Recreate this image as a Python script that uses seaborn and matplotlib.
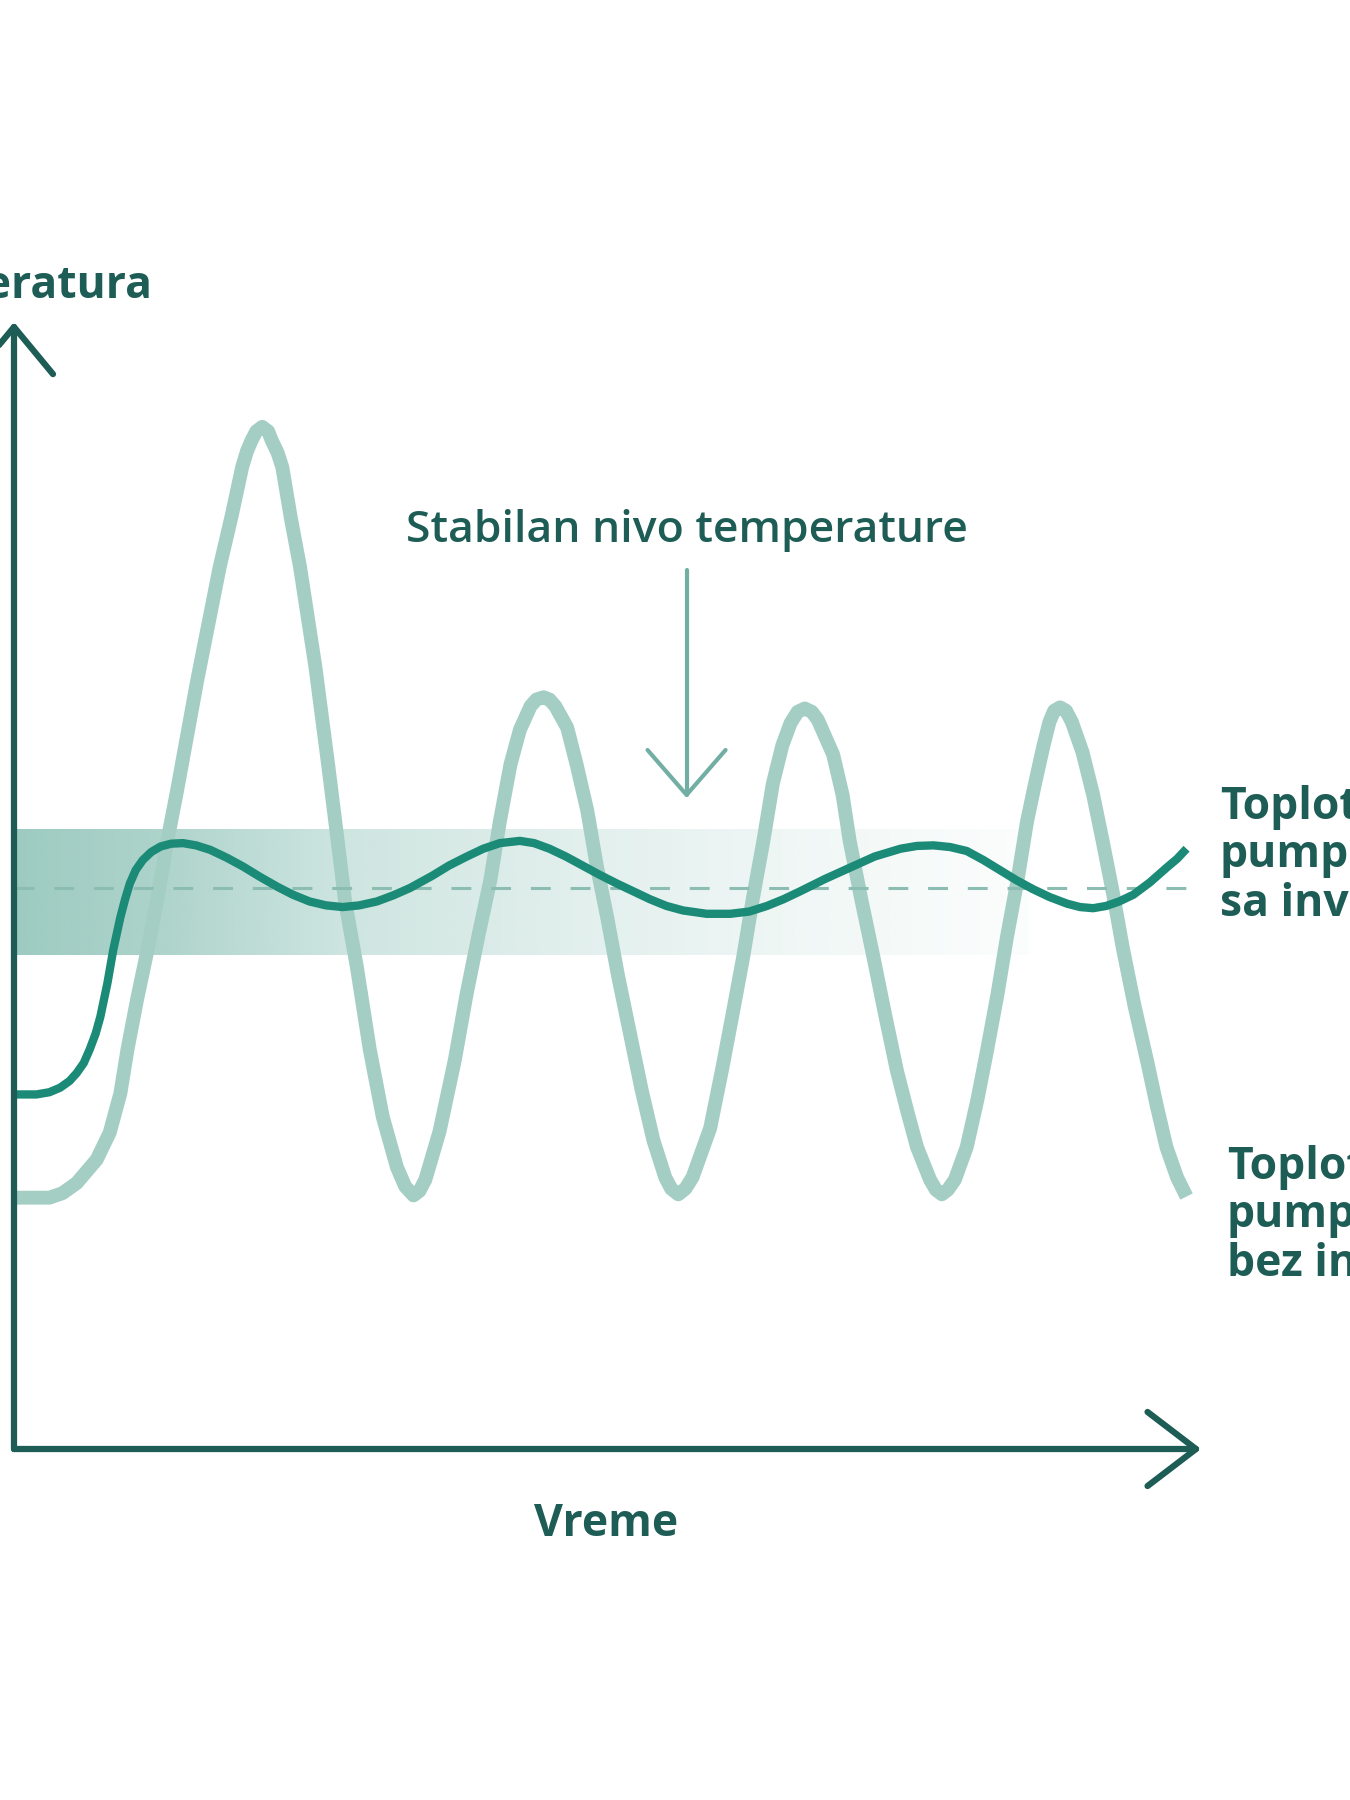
import numpy as np
import pandas as pd
import matplotlib
matplotlib.use("Agg")
import matplotlib.pyplot as plt
import seaborn as sns
from matplotlib.colors import to_rgb

# Visual style
sns.set_theme(style="white")
plt.rcParams['font.family'] = ['Open Sans', 'DejaVu Sans']

# Heat pump without inverter (on/off cycling) - time 0..100, temperature 0..100
time_no_inv = [0, 3.0, 4.1, 5.3, 7.0, 8.1, 9.0, 9.6, 10.4, 11.3, 12.1, 12.9, 13.8, 15.5, 17.4, 18.4,
               19.3, 19.7, 20.1, 20.5, 21.0, 21.5, 21.8, 22.3, 22.7, 23.4, 24.2, 25.5, 26.6, 27.3,
               28.0, 29.0, 30.1, 31.2, 32.4, 33.1, 33.8, 34.3,
               34.8, 36.0, 37.3, 38.3, 39.3, 40.3, 41.1, 42.0, 42.8, 43.7, 44.2, 44.8, 45.3, 45.8,
               46.8, 47.6, 48.5, 49.3, 50.2, 51.1, 52.1, 53.1, 54.1, 55.1, 55.6, 56.2, 56.8,
               57.4, 58.9, 59.9, 60.8, 61.7, 62.5, 63.4, 64.2, 65.0, 65.7, 66.3, 66.9, 67.5, 68.0,
               69.3, 70.1, 70.7, 71.7, 72.7, 73.7, 74.7, 75.6, 76.4, 77.5, 78.0, 78.5, 79.0,
               79.6, 80.6, 81.5, 82.3, 83.2, 84.0, 84.9, 85.7, 86.4, 87.1, 87.6, 88.0, 88.5, 89.0,
               89.5, 90.4, 91.3, 92.1, 93.0, 93.8, 94.8, 95.9, 96.7, 97.5, 98.4, 99.2]
temp_no_inv = [22.4, 22.4, 22.8, 23.7, 25.8, 28.2, 31.7, 35.6, 40.0, 44.5, 48.9, 53.8, 58.7, 68.5, 78.6, 83.1,
               87.5, 88.9, 89.9, 90.7, 91.1, 90.7, 89.9, 88.8, 87.5, 83.1, 78.6, 69.7, 60.8, 54.9,
               48.9, 43.0, 35.6, 29.6, 25.1, 23.4, 22.6, 23.0,
               24.0, 28.3, 34.7, 40.6, 45.8, 50.7, 55.9, 61.0, 64.1, 66.2, 66.8, 67.0, 66.8, 66.2,
               64.3, 61.0, 56.9, 52.0, 47.3, 42.2, 37.1, 32.0, 27.5, 24.2, 23.2, 22.7, 23.2,
               24.2, 28.6, 33.8, 38.8, 43.9, 49.0, 54.2, 59.3, 62.7, 64.7, 65.7, 66.0, 65.7, 65.0,
               61.9, 58.3, 54.2, 48.9, 43.9, 38.7, 33.7, 30.0, 26.9, 24.0, 23.1, 22.7, 23.1,
               24.0, 26.9, 31.1, 35.4, 40.5, 45.6, 50.7, 55.9, 59.4, 62.7, 64.8, 65.8, 66.1, 65.8,
               64.8, 62.1, 58.3, 54.2, 49.4, 44.7, 39.5, 34.4, 30.5, 26.9, 24.2, 22.5]

# Heat pump with inverter (settles near the stable level)
time_inv = [0, 1.9, 3.0, 3.9, 4.7, 5.3, 5.9, 6.4, 6.9, 7.3, 7.6, 7.9, 8.4, 9.0, 9.4, 9.8, 10.3,
            10.9, 11.6, 12.4, 13.3, 14.3, 15.4, 16.6, 18.0, 19.4, 20.8, 22.3, 23.6, 25.0, 26.4,
            27.8, 29.2, 30.7, 32.1, 33.5, 35.4, 36.8, 38.3, 39.7, 41.1, 42.8, 44.0, 45.3, 46.7,
            48.1, 49.5, 51.0, 52.4, 53.8, 55.2, 56.6, 58.6, 60.6, 62.2, 63.7, 65.1, 66.5, 68.6,
            70.7, 72.8, 75.0, 76.4, 77.8, 79.2, 80.6, 82.0, 83.4, 84.8, 86.2, 87.6, 89.1, 90.2,
            91.3, 92.4, 93.5, 94.7, 96.1, 97.5, 98.4, 99.2]
temp_inv = [31.6, 31.6, 31.8, 32.2, 32.8, 33.5, 34.4, 35.6, 37.0, 38.5, 40.0, 41.5, 44.5, 47.4, 49.0,
            50.4, 51.6, 52.5, 53.2, 53.7, 53.95, 54.0, 53.8, 53.4, 52.7, 51.9, 51.0, 50.1, 49.4,
            48.8, 48.45, 48.3, 48.45, 48.8, 49.35, 50.0, 51.1, 52.0, 52.8, 53.5, 54.0, 54.2, 54.0,
            53.5, 52.8, 52.0, 51.2, 50.4, 49.7, 49.0, 48.4, 48.0, 47.7, 47.7, 47.9, 48.4, 49.0,
            49.7, 50.8, 51.8, 52.8, 53.5, 53.75, 53.8, 53.65, 53.3, 52.5, 51.6, 50.7, 49.9, 49.2,
            48.6, 48.3, 48.2, 48.4, 48.8, 49.4, 50.5, 51.8, 52.6, 53.5]

stable_level = 50.0
dash_end = 99.3
band_low, band_high = 44.0, 55.2
# band opacity read along the time axis (fades to white)
band_stops_t = [0, 11.5, 28, 47, 67, 80, 86]
band_stops_alpha = [1.0, 0.85, 0.5, 0.3, 0.15, 0.07, 0.03]

label_y_axis = "Temperatura"
label_x_axis = "Vreme"
label_stable = "Stabilan nivo temperature"
label_inv = ["Toplotna", "pumpa", "sa inverterom"]
label_no_inv = ["Toplotna", "pumpa", "bez invertera"]

# Colours
LIGHT = "#a4cec4"
DARK = "#1b8a77"
AXIS = "#1e5d56"
ARROW = "#72aea3"
DASH = "#8cbdb3"
BAND = "#9dcbc1"

fig = plt.figure(figsize=(13.5, 18), dpi=100)
ax = fig.add_axes([14 / 1350, 351 / 1800, 1182 / 1350, 1122 / 1800])

# gradient band around the stable level
grid_t = np.linspace(0, band_stops_t[-1], 400)
alpha = np.interp(grid_t, band_stops_t, band_stops_alpha)
grad = np.zeros((1, len(grid_t), 4))
grad[..., :3] = to_rgb(BAND)
grad[..., 3] = alpha
ax.imshow(grad, extent=[0, band_stops_t[-1], band_low, band_high], aspect='auto',
          interpolation='bilinear', zorder=1)

# curves
sns.lineplot(x=time_no_inv, y=temp_no_inv, ax=ax, color=LIGHT, linewidth=10, estimator=None,
             sort=False, zorder=2, solid_capstyle='butt', solid_joinstyle='round')
ax.plot([0, dash_end], [stable_level, stable_level], color=DASH, linewidth=2.2,
        dashes=(6.5, 6.5), zorder=3)
sns.lineplot(x=time_inv, y=temp_inv, ax=ax, color=DARK, linewidth=6, estimator=None,
             sort=False, zorder=4, solid_capstyle='butt', solid_joinstyle='round')

# axes with open arrow heads
axis_kw = dict(color=AXIS, linewidth=4.5, solid_capstyle='round', solid_joinstyle='round',
               clip_on=False, zorder=5)
ax.plot([0, 0], [0, 100], **axis_kw)
ax.plot([0, 100], [0, 0], **axis_kw)
ax.plot([-3.3, 0, 3.3], [95.8, 100, 95.8], **axis_kw)
ax.plot([95.9, 100, 95.9], [3.3, 0, -3.3], **axis_kw)

# annotation arrow for the stable level
arr_kw = dict(color=ARROW, linewidth=3, solid_capstyle='round', solid_joinstyle='round',
              clip_on=False, zorder=5)
ax.plot([56.9, 56.9], [78.3, 58.3], **arr_kw)
ax.plot([53.6, 56.9, 60.2], [62.3, 58.3, 62.3], **arr_kw)

ax.set_xlim(0, 100)
ax.set_ylim(0, 100)
ax.set_axis_off()

# texts
txt = dict(color=AXIS, fontsize=32, fontweight='bold', va='baseline', clip_on=False)
ax.text(11.7, 102.6, label_y_axis, ha='right', **txt)
ax.text(50.1, -7.75, label_x_axis, ha='center', **txt)
ax.text(56.9, 80.8, label_stable, ha='center', color=AXIS, fontsize=32, fontweight='semibold',
        va='baseline')
for i, line in enumerate(label_inv):
    ax.text(102.0, 56.15 - i * 4.32, line, ha='left', **txt)
for i, line in enumerate(label_no_inv):
    ax.text(102.6, 24.1 - i * 4.32, line, ha='left', **txt)

fig.savefig("out.png", dpi=100, facecolor='white')
